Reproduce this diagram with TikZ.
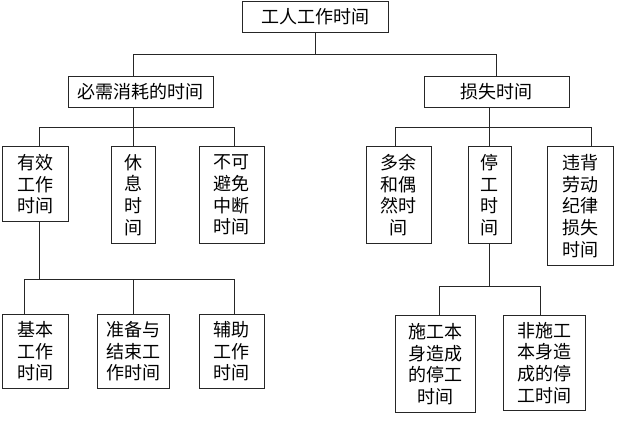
\documentclass[tikz,border=0pt]{standalone}
\usepackage{fontspec}
\newfontfamily\cjk{Noto Sans CJK SC}
\begin{document}
\begin{tikzpicture}[x=1pt,y=-1pt,
  box/.style={draw=black!85, line width=1pt, inner sep=0pt, align=center,
    font=\cjk\fontsize{18}{21.7}\selectfont, text=black},
  conn/.style={draw=black!85, line width=1pt}]
\useasboundingbox (0,0) rectangle (623,421);
% level 1
\node[box, minimum width=146pt, minimum height=30.6pt] (top) at (315.3,17) {工人工作时间};
% level 2
\node[box, minimum width=145pt, minimum height=31.3pt] (nec) at (140.8,91.7) {必需消耗的时间};
\node[box, minimum width=145.3pt, minimum height=31.3pt] (loss) at (496.7,91.7) {损失时间};
% level 3 left
\node[box, minimum width=65.8pt, minimum height=75pt] (eff) at (35.6,184.2) {有效\\工作\\时间};
\node[box, minimum width=44pt, minimum height=96.6pt] (rest) at (133,195) {休\\息\\时\\间};
\node[box, minimum width=65.7pt, minimum height=96.6pt] (unav) at (231.85,195) {不可\\避免\\中断\\时间};
% level 3 right
\node[box, minimum width=65pt, minimum height=97pt] (extra) at (398.8,195.2) {多余\\和偶\\然时\\间};
\node[box, minimum width=43.7pt, minimum height=97pt] (stop) at (489.85,195.2) {停\\工\\时\\间};
\node[box, minimum width=65.6pt, minimum height=118.3pt] (viol) at (580.5,205.85) {违背\\劳动\\纪律\\损失\\时间};
% level 4 left
\node[box, minimum width=65.6pt, minimum height=74pt] (basic) at (35.5,351.3) {基本\\工作\\时间};
\node[box, minimum width=72.4pt, minimum height=74pt] (prep) at (133.5,351.3) {准备与\\结束工\\作时间};
\node[box, minimum width=65.7pt, minimum height=74pt] (aux) at (231.85,351.3) {辅助\\工作\\时间};
% level 4 right
\node[box, minimum width=80pt, minimum height=97pt] (self) at (435,364.2) {施工本\\身造成\\的停工\\时间};
\node[box, minimum width=81.3pt, minimum height=94.3pt] (nonself) at (544.35,362.85) {非施工\\本身造\\成的停\\工时间};
% junction coordinates
\coordinate (a0) at (315.3,54);
\coordinate (aL) at (133,54);
\coordinate (aR) at (496.7,54);
\coordinate (bN) at (133,127);
\coordinate (bL1) at (39.7,127);
\coordinate (bL3) at (234.7,127);
\coordinate (bM) at (489.7,127);
\coordinate (bR1) at (395.7,127);
\coordinate (bR3) at (591.7,127);
\coordinate (cE) at (39.7,279.3);
\coordinate (cL1) at (24.7,279.3);
\coordinate (cL2) at (133,279.3);
\coordinate (cL3) at (234.7,279.3);
\coordinate (dS) at (489.7,286);
\coordinate (dL) at (439,286);
\coordinate (dR) at (540.3,286);
% connectors
\draw[conn] (top.south) -- (a0);
\draw[conn] (nec.north -| aL) -- (aL) -- (aR) -- (loss.north -| aR);
\draw[conn] (nec.south -| bN) -- (bN);
\draw[conn] (eff.north -| bL1) -- (bL1) -- (bL3) -- (unav.north -| bL3);
\draw[conn] (bN) -- (rest.north);
\draw[conn] (loss.south -| bM) -- (bM);
\draw[conn] (extra.north -| bR1) -- (bR1) -- (bR3) -- (viol.north -| bR3);
\draw[conn] (bM) -- (stop.north -| bM);
\draw[conn] (eff.south -| cE) -- (cE);
\draw[conn] (basic.north -| cL1) -- (cL1) -- (cL3) -- (aux.north -| cL3);
\draw[conn] (cL2) -- (prep.north -| cL2);
\draw[conn] (stop.south -| dS) -- (dS);
\draw[conn] (self.north -| dL) -- (dL) -- (dR) -- (nonself.north -| dR);
\end{tikzpicture}
\end{document}
